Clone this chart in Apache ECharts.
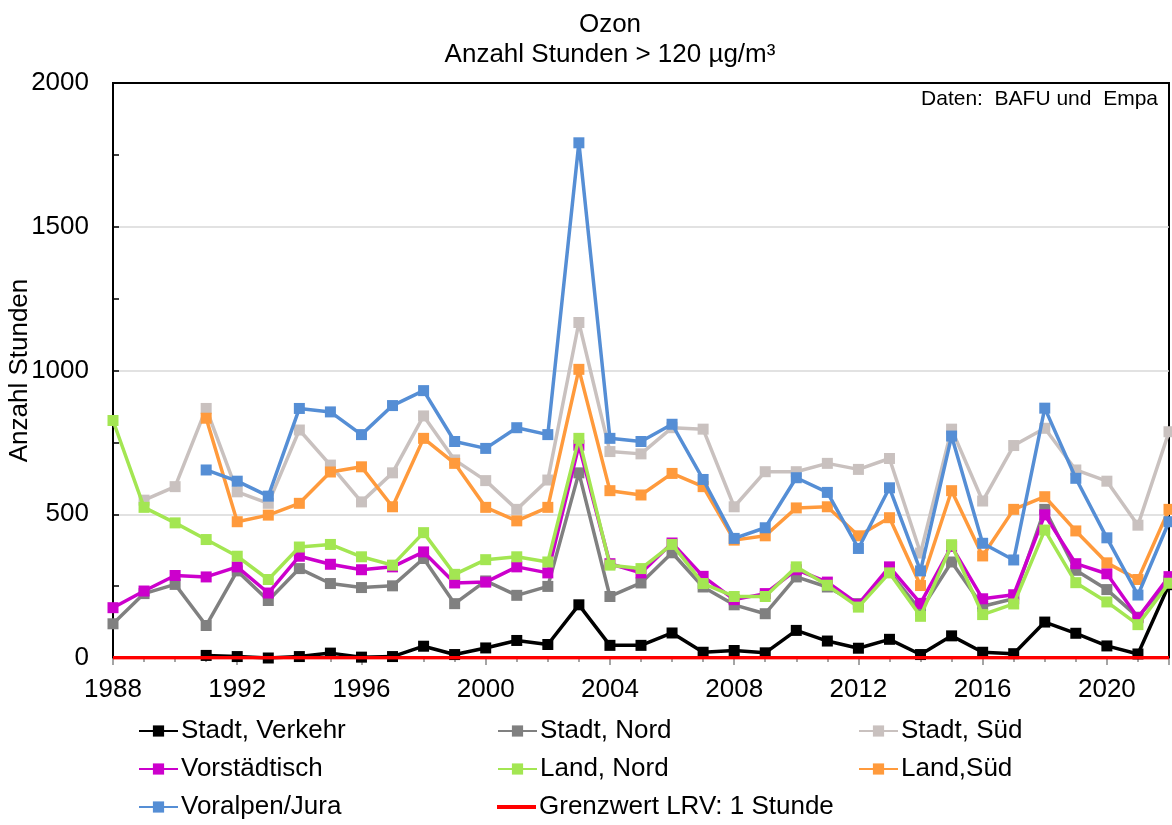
<!DOCTYPE html>
<html>
<head>
<meta charset="utf-8">
<title>Ozon</title>
<script src="https://cdn.jsdelivr.net/npm/echarts@6/dist/echarts.min.js"></script>
<style>
  html,body{margin:0;padding:0;background:#fff;}
  #chart{width:1172px;height:825px;}
</style>
</head>
<body>
<div id="chart"></div>
<script>
// Jahre
var years = [1988,1989,1990,1991,1992,1993,1994,1995,1996,1997,1998,1999,2000,2001,2002,2003,2004,2005,
             2006,2007,2008,2009,2010,2011,2012,2013,2014,2015,2016,2017,2018,2019,2020,2021,2022];
// Anzahl Stunden > 120 µg/m3 je Standorttyp
var stadtVerkehr = [null,null,null,9,5,0,5,17,3,5,41,12,35,61,47,185,44,44,
                    87,20,26,18,96,59,34,65,12,77,20,15,125,86,42,14,255];
var stadtNord = [119,224,256,113,303,200,311,259,245,251,346,189,268,218,249,644,214,261,
                 366,247,185,154,282,247,189,300,165,334,180,206,517,305,238,142,268];
var stadtSued = [null,549,596,868,578,538,793,671,543,644,842,689,617,517,619,1167,718,710,
                 801,796,526,648,648,677,656,694,365,796,546,739,799,654,615,462,787];
var vorstaedtisch = [175,233,287,282,317,226,354,326,307,317,369,261,264,317,296,740,328,296,
                     400,284,203,224,307,264,187,317,190,388,206,220,498,328,293,140,283];
var landNord = [826,524,470,412,354,273,386,395,352,323,436,291,342,352,334,764,323,311,
                395,259,214,214,317,253,177,296,145,394,151,188,445,262,195,116,260];
var landSued = [null,null,null,834,474,497,538,647,665,526,764,677,524,477,524,1004,582,567,
                642,596,410,425,522,526,425,488,252,582,355,517,561,442,331,273,517];
var voralpen = [null,null,null,654,615,563,868,856,777,878,930,753,729,801,777,1792,764,753,
                813,621,416,453,627,576,381,592,303,772,399,341,869,625,418,219,474];
// Grenzwert LRV: 1 Stunde
var grenzJahre = [1988,2022];
var grenzwert = [1,1];

var xTicks = [1988,1992,1996,2000,2004,2008,2012,2016,2020];
var yTicks = [0,500,1000,1500,2000];

var names = ['Stadt, Verkehr','Stadt, Nord','Stadt, Süd','Vorstädtisch','Land, Nord','Land,Süd','Voralpen/Jura','Grenzwert LRV: 1 Stunde'];
var colors = ['#000000','#808080','#c9c1bf','#cc00cc','#a3e652','#ff9a3c','#558ed5','#ff0000'];
var werte = [stadtVerkehr,stadtNord,stadtSued,vorstaedtisch,landNord,landSued,voralpen];

var FONT = '"Liberation Sans", Arial, sans-serif';

function paare(xs, ys){
    var out = [];
    for(var i=0;i<xs.length;i++){
        out.push([xs[i], ys[i]]);
    }
    return out;
}

var series = [];
for(var s=0;s<werte.length;s++){
    series.push({
        name:names[s],
        type:'line',
        data:paare(years,werte[s]),
        symbol:'rect',
        symbolSize:11,
        showSymbol:true,
        connectNulls:false,
        itemStyle:{color:colors[s]},
        lineStyle:{color:colors[s],width:3.5},
        z:2+s
    });
}
series.push({
    name:names[7],
    type:'line',
    data:paare(grenzJahre,grenzwert),
    symbol:'none',
    itemStyle:{color:colors[7]},
    lineStyle:{color:colors[7],width:3.5},
    z:20
});

// Legende: 3 Spalten x 3 Zeilen
var legCols = [138,497,858];
var legRows = [733,771,809];
var legends = [];
for(var k=0;k<names.length;k++){
    var leg = {
        data:[names[k]],
        left:legCols[k%3],
        top:legRows[Math.floor(k/3)]-15,
        padding:0,
        itemWidth:39,
        itemHeight:14,
        itemGap:0,
        textStyle:{fontFamily:FONT,fontSize:26,color:'#000',padding:[0,0,0,-2]}
    };
    if(k==7){  // nur Linie, kein Marker
        leg.icon = 'rect';
        leg.itemHeight = 4;
    }
    legends.push(leg);
}

var chart = echarts.init(document.getElementById('chart'));
var option = {
    animation:false,
    backgroundColor:'#fff',
    title:{
        text:'Ozon\nAnzahl Stunden > 120 µg/m³',
        left:605,
        top:5,
        textAlign:'center',
        textStyle:{fontFamily:FONT,fontSize:26,fontWeight:'normal',color:'#000',lineHeight:30}
    },
    legend:legends,
    grid:{
        left:113,
        right:3,
        top:83,
        bottom:167,
        containLabel:false,
        outerBoundsMode:'none',
        show:true,
        borderColor:'#000',
        borderWidth:2
    },
    xAxis:{
        type:'value',
        min:xTicks[0],
        max:2022,
        interval:4,
        axisLine:{show:true,lineStyle:{color:'#000',width:1.5}},
        axisTick:{show:true,inside:false,length:7,lineStyle:{color:'#888',width:1.5}},
        minorTick:{show:true,splitNumber:4,length:4,lineStyle:{color:'#888',width:1.5}},
        splitLine:{show:false},
        axisLabel:{fontFamily:FONT,fontSize:26,color:'#000',margin:19,
            formatter:function(v){ return xTicks.indexOf(v)>=0 ? String(v) : ''; }}
    },
    yAxis:{
        type:'value',
        min:yTicks[0],
        max:yTicks[yTicks.length-1],
        interval:500,
        name:'Anzahl Stunden',
        nameLocation:'middle',
        nameGap:80,
        nameMoveOverlap:false,
        nameTextStyle:{fontFamily:FONT,fontSize:26,color:'#000'},
        axisLine:{show:true,lineStyle:{color:'#000',width:2}},
        axisTick:{show:true,inside:true,length:6,lineStyle:{color:'#000',width:1.5}},
        minorTick:{show:true,splitNumber:2,length:6,lineStyle:{color:'#000',width:1.5}},
        // oberste Linie = Rahmen, schwarz
        splitLine:{show:true,lineStyle:{color:['#d9d9d9','#d9d9d9','#d9d9d9','#d9d9d9','#000'],width:1.5}},
        axisLabel:{fontFamily:FONT,fontSize:26,color:'#000',margin:24,
            formatter:function(v){ return String(v); }}
    },
    graphic:[{
        type:'text',
        right:14,
        top:89,
        z:30,
        style:{text:'Daten:  BAFU und  Empa',fontFamily:FONT,fontSize:21,fill:'#000'}
    }],
    series:series
};
chart.setOption(option);
</script>
</body>
</html>
